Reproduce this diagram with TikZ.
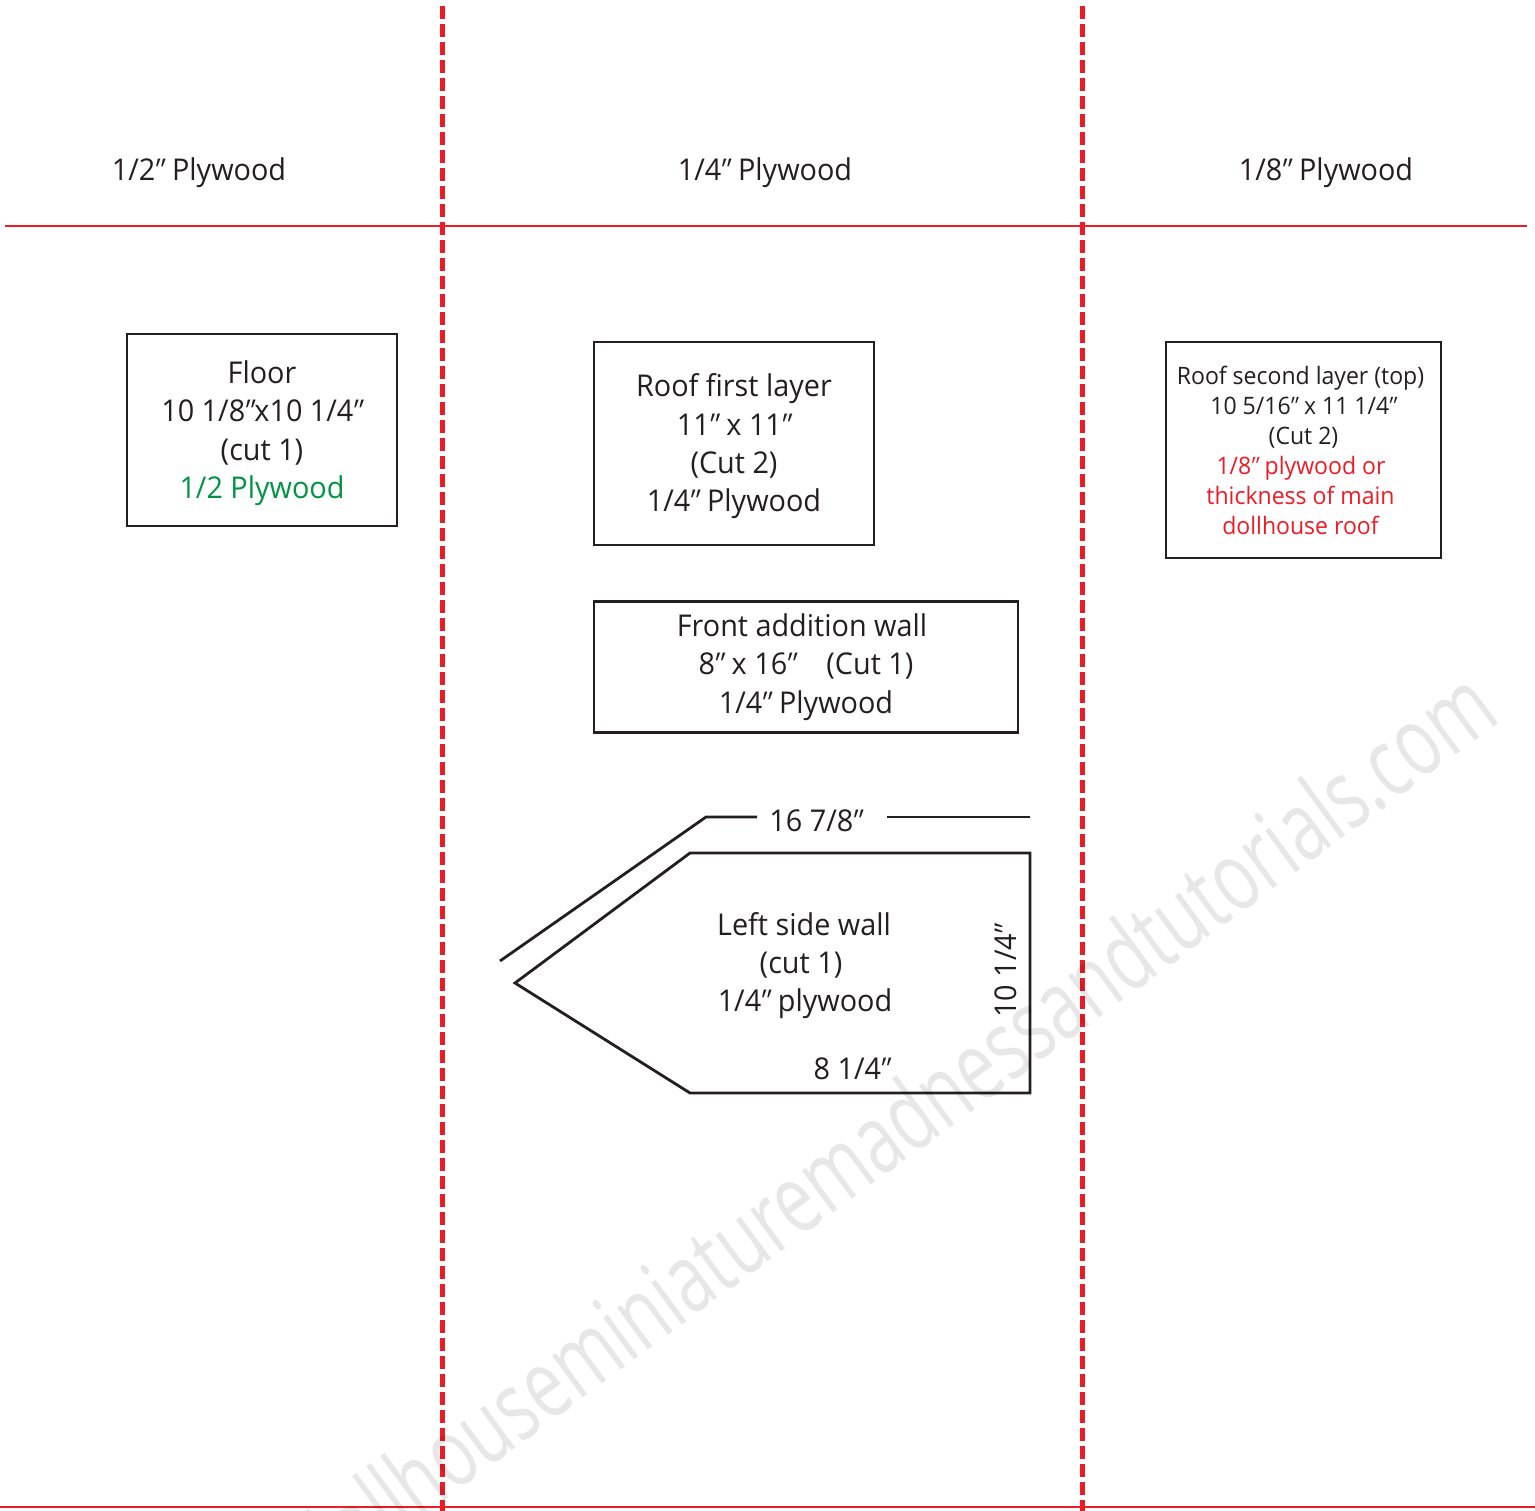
\documentclass[tikz,border=0pt]{standalone}
\usepackage{fontspec}
\setmainfont{Open Sans}[FakeStretch=0.96]
\newfontface\primefont{Open Sans}[FakeSlant=0.3,FakeStretch=0.96]
\newfontface\markfont{Open Sans}[FakeStretch=0.71]
\definecolor{cutred}{RGB}{237,28,36}
\definecolor{ink}{RGB}{35,31,32}
\definecolor{woodgreen}{RGB}{0,148,68}
\newcommand{\inch}{\kern-0.19em{\primefont ″}\kern0.12em}
\newcommand{\dropfirst}{\rule{0pt}{29pt}}
\tikzset{
  x=1pt,y=-1pt,
  cutline/.style={draw=cutred,line width=5pt,dash pattern=on 13pt off 5pt},
  shelf/.style={draw=cutred,line width=2.6pt},
  partbox/.style={draw=ink,line width=2.8pt,inner sep=0pt,align=center,font=\fontsize{30}{38.3}\selectfont,text=ink},
  smallbox/.style={partbox,font=\fontsize{24}{30}\selectfont},
  lab/.style={inner sep=0pt,anchor=base,font=\fontsize{30}{38.3}\selectfont,text=ink,align=center},
  wallshape/.style={draw=ink,line width=2.8pt,line join=miter},
  dimline/.style={draw=ink,line width=2.8pt}
}
\begin{document}
\begin{tikzpicture}
\useasboundingbox (0,0) rectangle (1535,1511);
\clip (0,0) rectangle (1535,1511);
\fill[white] (0,0) rectangle (1535,1511);

\coordinate (sl) at (5,226); \coordinate (sr) at (1527,226);
\coordinate (bl) at (0,1507); \coordinate (br) at (1535,1507);
\coordinate (va) at (442.5,6); \coordinate (vb) at (442.5,1511);
\coordinate (wa) at (1082.5,6); \coordinate (wb) at (1082.5,1511);
\draw[shelf] (sl) -- (sr);
\draw[shelf] (bl) -- (br);
\draw[cutline] (va) -- (vb);
\draw[cutline] (wa) -- (wb);

\node[lab] (h1) at (199,181) {1/2\inch\ Plywood};
\node[lab] (h2) at (765,181) {1/4\inch\ Plywood};
\node[lab] (h3) at (1326,181) {1/8\inch\ Plywood};

\node[partbox,minimum width=270pt,minimum height=192pt] (floor) at (262,430)
  {\dropfirst Floor\\10 1/8\inch x10 1/4\inch\\(cut 1)\\\textcolor{woodgreen}{1/2 Plywood}};
\node[partbox,minimum width=280pt,minimum height=203pt] (roof1) at (734,443.5)
  {\dropfirst Roof first layer\\11\inch\ x 11\inch\\(Cut 2)\\1/4\inch\ Plywood};
\node[smallbox,minimum width=275pt,minimum height=216pt] (roof2) at (1303.5,450)
  {\hspace*{-6pt}Roof second layer (top)\\10 5/16\inch\ x 11 1/4\inch\\(Cut 2)\\\textcolor{cutred}{\hspace*{-5pt}1/8\inch\ plywood or}\\\textcolor{cutred}{\hspace*{-6pt}thickness of main}\\\textcolor{cutred}{\hspace*{-6pt}dollhouse roof}};
\node[partbox,minimum width=424pt,minimum height=131pt] (front) at (806,667)
  {\hspace*{-8pt}Front addition wall\\8\inch\ x 16\inch\quad (Cut 1)\\1/4\inch\ Plywood};

\draw[wallshape] (515,983) -- (690,853) -- (1030,853) -- (1030,1093) -- (690,1093) -- cycle;

\node[lab] (lw1) at (804,935) {Left side wall};
\node[lab] (lw2) at (801,973) {(cut 1)};
\node[lab] (lw3) at (805,1011) {1/4\inch\ plywood};
\node[lab] (lw4) at (852,1079) {8 1/4\inch};
\node[lab,rotate=90] (lw5) at (1016,971) {10 1/4\inch};
\node[lab] (dimlab) at (816,831) {16 7/8\inch};

\coordinate (d1) at (500,961); \coordinate (d2) at (706,817); \coordinate (d3) at (757,817);
\coordinate (d4) at (887,817); \coordinate (d5) at (1030,817);
\draw[dimline] (d1) -- (d2) -- (d3);
\draw[dimline] (d4) -- (d5);

\node[inner sep=0pt,anchor=base east,rotate=36.4,black,opacity=0.095,font=\markfont\fontsize{97}{97}\selectfont] (mark) at (1503,720)
  {dollhouseminiaturemadnessandtutorials.com};
\end{tikzpicture}
\end{document}
